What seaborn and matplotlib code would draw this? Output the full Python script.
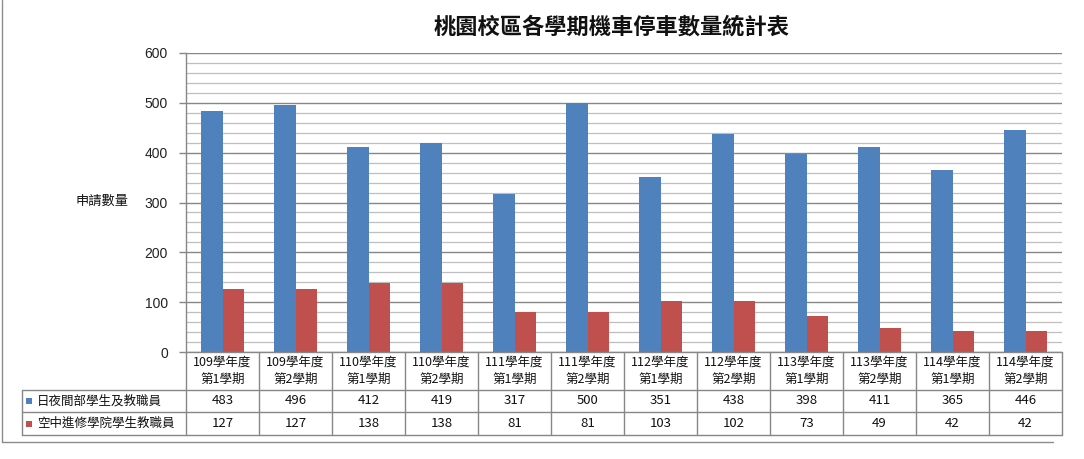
import matplotlib
matplotlib.use("Agg")
import matplotlib.pyplot as plt
import matplotlib.transforms as mtransforms
from matplotlib.patches import Rectangle
from matplotlib.lines import Line2D
from matplotlib.ticker import MultipleLocator
import seaborn as sns
import pandas as pd

# ---- data ----
semesters = ["109學年度\n第1學期", "109學年度\n第2學期", "110學年度\n第1學期", "110學年度\n第2學期",
             "111學年度\n第1學期", "111學年度\n第2學期", "112學年度\n第1學期", "112學年度\n第2學期",
             "113學年度\n第1學期", "113學年度\n第2學期", "114學年度\n第1學期", "114學年度\n第2學期"]
series_names = ["日夜間部學生及教職員", "空中進修學院學生教職員"]
day_values = [483, 496, 412, 419, 317, 500, 351, 438, 398, 411, 365, 446]
open_values = [127, 127, 138, 138, 81, 81, 103, 102, 73, 49, 42, 42]
colors = ["#4F81BD", "#C0504D"]
title = "桃園校區各學期機車停車數量統計表"
ylabel = "申請數量"

df = pd.DataFrame({
    "學期": semesters * 2,
    "數量": day_values + open_values,
    "類別": [series_names[0]] * len(semesters) + [series_names[1]] * len(semesters),
})

sns.set_theme(style="white")
plt.rcParams["font.family"] = ["Noto Sans CJK TC", "DejaVu Sans"]

W, H = 1084, 459
fig = plt.figure(figsize=(W / 100, H / 100), dpi=100)
fig.patch.set_facecolor("white")

def fx(px):
    return px / W

def fy(py):
    return 1 - py / H

L, R, T, B = 186, 1062, 53, 352
ax = fig.add_axes([fx(L), fy(B), fx(R) - fx(L), fy(T) - fy(B)])

sns.barplot(data=df, x="學期", y="數量", hue="類別", order=semesters, hue_order=series_names,
            palette=colors, width=0.58, saturation=1, dodge=True, legend=False, ax=ax,
            edgecolor="none", linewidth=0, zorder=3)

ax.set_xlim(-0.5, len(semesters) - 0.5)
ax.set_ylim(0, 600)
ax.yaxis.set_major_locator(MultipleLocator(100))
ax.yaxis.set_minor_locator(MultipleLocator(20))
ax.grid(which="minor", axis="y", color="#BFBFBF", linewidth=0.9, zorder=0)
ax.grid(which="major", axis="y", color="#878787", linewidth=1.0, zorder=1)
ax.set_axisbelow(True)
ax.set_xlabel("")
ax.set_ylabel("")
ax.set_xticks([])
for s in ["right", "bottom"]:
    ax.spines[s].set_visible(False)
ax.spines["top"].set_visible(False)
ax.spines["left"].set_color("#878787")
ax.spines["left"].set_linewidth(1.0)
ax.tick_params(axis="y", which="major", direction="out", length=5, width=1, color="#878787",
               labelsize=10, pad=8, left=True)
ax.tick_params(axis="y", which="minor", left=False)
for lab in ax.get_yticklabels():
    lab.set_fontfamily(["Liberation Sans", "DejaVu Sans"])
    lab.set_color("#222222")

# title and y label
fig.text(fx(612), fy(27), title, ha="center", va="center", fontsize=16, fontweight="bold", color="#111111")
fig.text(fx(102), fy(201), ylabel, ha="center", va="center", fontsize=9.5, color="#111111")

# ---- data table ----
trans = mtransforms.blended_transform_factory(ax.transData, fig.transFigure)
line_c = "#878787"
y_top, y_r1, y_r2, y_bot = fy(352), fy(390), fy(412), fy(435)
# vertical lines
for i in range(len(semesters) + 1):
    fig.add_artist(Line2D([i - 0.5, i - 0.5], [y_bot, y_top], transform=trans, color=line_c, lw=1))
# horizontal lines
fig.add_artist(Line2D([fx(L), fx(R)], [y_top, y_top], transform=fig.transFigure, color=line_c, lw=1))
for yy in (y_r1, y_r2, y_bot):
    fig.add_artist(Line2D([fx(22), fx(R)], [yy, yy], transform=fig.transFigure, color=line_c, lw=1))
fig.add_artist(Line2D([fx(22), fx(22)], [y_r1, y_bot], transform=fig.transFigure, color=line_c, lw=1))

for i, sem in enumerate(semesters):
    fig.text(i, fy(371), sem, transform=trans, ha="center", va="center", fontsize=9,
             linespacing=1.45, color="#111111")
    fig.text(i, fy(401), str(day_values[i]), transform=trans, ha="center", va="center",
             fontsize=9.5, color="#111111")
    fig.text(i, fy(423.5), str(open_values[i]), transform=trans, ha="center", va="center",
             fontsize=9.5, color="#111111")

for name, col, yc in zip(series_names, colors, (401, 423.5)):
    fig.add_artist(Rectangle((fx(26), fy(yc + 3)), fx(6), 6 / H, transform=fig.transFigure,
                             facecolor=col, edgecolor="none"))
    fig.text(fx(37), fy(yc), name, ha="left", va="center", fontsize=9, color="#111111")

# outer frame
fig.add_artist(Line2D([fx(2), fx(2)], [fy(0), fy(442)], transform=fig.transFigure, color="#8C8C8C", lw=1))
fig.add_artist(Line2D([fx(2), fx(1053)], [fy(442), fy(442)], transform=fig.transFigure, color="#8C8C8C", lw=1))

fig.savefig("out.png", dpi=100, facecolor="white")
